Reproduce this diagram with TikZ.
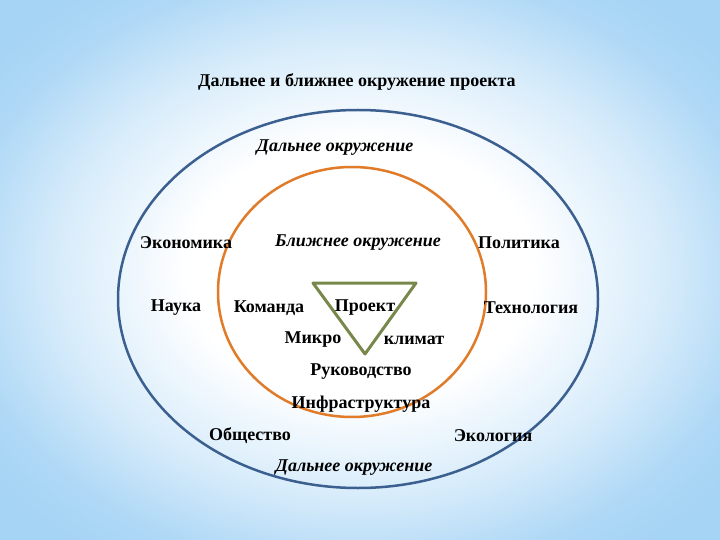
\documentclass[tikz,border=0pt]{standalone}
\usepackage{fontspec}
\setmainfont{Liberation Serif}
\usepackage{xcolor}
\usetikzlibrary{positioning}

\definecolor{skyedge}{HTML}{A6D4F5}
\definecolor{farblue}{HTML}{3B5F8F}
\definecolor{nearorange}{HTML}{E07B2A}
\definecolor{olive}{HTML}{77884A}

\pgfdeclareradialshading{slideglow}{\pgfpoint{0bp}{0bp}}{%
  color(0bp)=(white); color(12bp)=(white); color(21bp)=(skyedge!45);
  color(28bp)=(skyedge!90); color(32bp)=(skyedge); color(100bp)=(skyedge)}

\begin{document}
\begin{tikzpicture}[
  x=1pt, y=-1pt,
  font=\fontsize{18}{21}\selectfont\bfseries,
  lbl/.style={inner sep=1pt},
  zone/.style={lbl, font=\fontsize{18}{21}\selectfont\bfseries\itshape},
  ring/.style={line width=2.5pt}
]
\useasboundingbox (0,0) rectangle (720,540);
\shade[shading=slideglow] (0,0) rectangle (720,540);

% rings
\draw[ring, farblue] (358,299) ellipse [x radius=240, y radius=189];
\draw[ring, nearorange] (352,292) ellipse [x radius=134, y radius=125];

% triangle
\coordinate (tl) at (313,283);
\coordinate (tr) at (416,283);
\coordinate (tb) at (365,354);
\draw[olive, line width=3pt, line join=round] (tl) -- (tr) -- (tb) -- cycle;

\node[lbl] (title) at (357,82) {Дальнее и ближнее окружение проекта};
\node[zone] (farTop) at (335,148) {Дальнее окружение};
\node[zone] (near) at (358,243) {Ближнее окружение};
\node[lbl] (econ) at (186,243) {Экономика};
\node[lbl] (polit) at (519,243) {Политика};
\node[lbl] (sci) at (176,308) {Наука};
\node[lbl] (team) at (269,308) {Команда};
\node[lbl] (proj) at (365,308) {Проект};
\node[lbl] (tech) at (531,308) {Технология};
\node[lbl] (micro) at (313,340) {Микро};
\node[lbl] (climate) at (414,340) {климат};
\node[lbl] (lead) at (361,372) {Руководство};
\node[lbl] (infra) at (361,404) {Инфраструктура};
\node[lbl] (soc) at (250,436) {Общество};
\node[lbl] (eco) at (493,436) {Экология};
\node[zone] (farBot) at (354,468) {Дальнее окружение};
\end{tikzpicture}
\end{document}
